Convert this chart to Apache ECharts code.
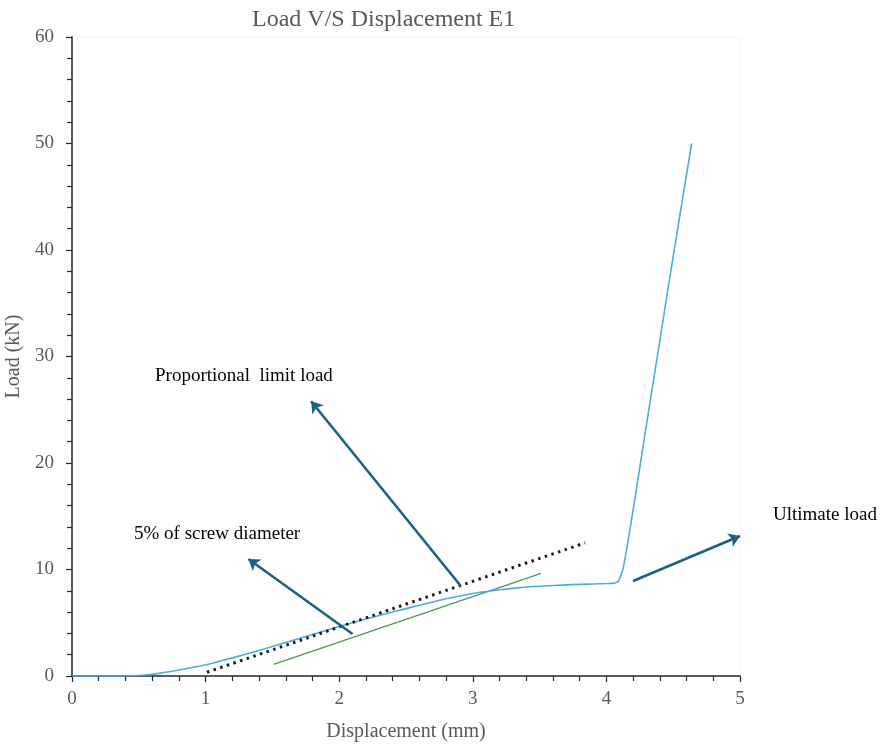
<!DOCTYPE html>
<html><head><meta charset="utf-8">
<script src="https://cdn.jsdelivr.net/npm/echarts@6/dist/echarts.min.js"></script>
<style>html,body{margin:0;padding:0;background:#fff}#c{width:882px;height:747px}</style>
</head><body><div id="c"></div>
<script>
// Load–displacement curve E1
const curveX = [0, 0.3, 0.45, 0.55, 0.65, 0.75, 0.85, 0.95, 1.05, 1.2, 1.4, 1.6, 1.8, 2.0, 2.2, 2.4, 2.6, 2.8, 3.0, 3.2, 3.4, 3.6, 3.8, 4.0, 4.06, 4.09, 4.125, 4.164, 4.214, 4.3, 4.4, 4.5, 4.638];
const curveY = [0, 0, 0.02, 0.1, 0.25, 0.45, 0.68, 0.92, 1.2, 1.7, 2.4, 3.15, 3.9, 4.65, 5.35, 6.0, 6.65, 7.25, 7.75, 8.1, 8.35, 8.5, 8.6, 8.68, 8.72, 8.9, 10.1, 12.8, 16.7, 23.6, 31.5, 39.4, 50.0];
// Proportional limit (dotted) line
const propX = [1.01, 3.84];
const propY = [0.35, 12.5];
// 5% screw diameter offset line
const offsetX = [1.51, 3.51];
const offsetY = [1.1, 9.64];
// Annotation arrows [x1,y1,x2,y2] (tail -> head)
const arrowProp = [2.91, 8.45, 1.79, 25.8];
const arrowScrew = [2.10, 3.94, 1.32, 10.99];
const arrowUlt = [4.20, 8.92, 5.0, 13.15];
const xTicks = [0, 1, 2, 3, 4, 5];
const yTicks = [0, 10, 20, 30, 40, 50, 60];

const zip = (a, b) => a.map((v, i) => [v, b[i]]);
const arrow = a => ({coords: [[a[0], a[1]], [a[2], a[3]]]});
const serif = '"Liberation Serif", "Times New Roman", serif';

const chart = echarts.init(document.getElementById('c'), null, {renderer: 'canvas'});
chart.setOption({
  animation: false,
  backgroundColor: '#fff',
  title: {
    text: 'Load V/S Displacement E1', left: 247, top: 3,
    textStyle: {fontFamily: serif, fontSize: 24, fontWeight: 'normal', color: '#595959'}
  },
  grid: {left: 72, right: 142, top: 37, bottom: 71, show: true, borderColor: '#f2f2f2', borderWidth: 1,
         containLabel: false, outerBoundsMode: 'none'},
  xAxis: {
    type: 'value', min: xTicks[0], max: xTicks[xTicks.length - 1], interval: 1,
    name: 'Displacement (mm)', nameLocation: 'middle', nameGap: 46,
    nameTextStyle: {fontFamily: serif, fontSize: 20, color: '#595959'},
    axisLine: {show: true, lineStyle: {color: '#262626', width: 1.5}},
    axisTick: {show: true, inside: false, length: 6, lineStyle: {color: '#262626', width: 1.2}},
    minorTick: {show: true, splitNumber: 5, length: 5, lineStyle: {color: '#262626', width: 1.2}},
    axisLabel: {fontFamily: serif, fontSize: 19, color: '#595959', margin: 14},
    splitLine: {show: false}
  },
  yAxis: {
    type: 'value', min: yTicks[0], max: yTicks[yTicks.length - 1], interval: 10,
    name: 'Load (kN)', nameLocation: 'middle', nameGap: 42, nameRotate: 90,
    nameTextStyle: {fontFamily: serif, fontSize: 20, color: '#595959'},
    axisLine: {show: true, lineStyle: {color: '#262626', width: 1.5}},
    axisTick: {show: true, inside: false, length: 6, lineStyle: {color: '#262626', width: 1.2}},
    minorTick: {show: true, splitNumber: 5, length: 5, lineStyle: {color: '#262626', width: 1.2}},
    axisLabel: {fontFamily: serif, fontSize: 19, color: '#595959', margin: 18},
    splitLine: {show: false}
  },
  series: [
    {type: 'line', data: zip(offsetX, offsetY), showSymbol: false, symbol: 'none',
     lineStyle: {color: '#4e9a50', width: 1.3}, z: 2},
    {type: 'line', data: zip(curveX, curveY), showSymbol: false, symbol: 'none', smooth: 0.15,
     lineStyle: {color: '#45b0e0', width: 1.6}, z: 3},
    {type: 'line', data: zip(propX, propY), showSymbol: false, symbol: 'none',
     lineStyle: {color: '#1a1a1a', width: 3, type: [2.5, 4.5], cap: 'butt'}, z: 4},
    {type: 'lines', coordinateSystem: 'cartesian2d', symbol: ['none', 'arrow'], symbolSize: 11,
     lineStyle: {color: '#1d6183', width: 2.6, opacity: 1, curveness: 0},
     data: [arrow(arrowProp), arrow(arrowScrew), arrow(arrowUlt)], z: 5, silent: true}
  ],
  graphic: [
    {type: 'text', left: 155, top: 367, style: {text: 'Proportional  limit load', font: '19px ' + serif, fill: '#000'}},
    {type: 'text', left: 134, top: 525, style: {text: '5% of screw diameter', font: '19px ' + serif, fill: '#000'}},
    {type: 'text', left: 773, top: 506, style: {text: 'Ultimate load', font: '19px ' + serif, fill: '#000'}}
  ]
});
</script></body></html>
